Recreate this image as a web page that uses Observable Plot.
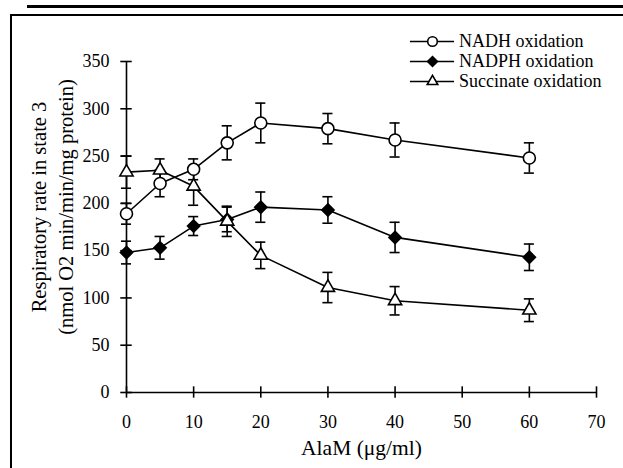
<!DOCTYPE html>
<html>
<head>
<meta charset="utf-8">
<script src="https://cdn.jsdelivr.net/npm/d3@7"></script>
<script src="https://cdn.jsdelivr.net/npm/@observablehq/plot@0.6"></script>
<style>
  html, body { margin: 0; padding: 0; background: #fff; }
  #wrap { position: relative; width: 623px; height: 468px; overflow: hidden; font-family: "Liberation Serif", "Times New Roman", Times, serif; }
  #topline { position: absolute; left: 27px; top: 5px; width: 596px; height: 3px; background: #000; }
  #box { position: absolute; left: 10px; top: 14px; width: 620px; height: 470px; border-left: 2px solid #000; border-top: 2px solid #000; }
  #chart { position: absolute; left: 0; top: 0; }
  #chart svg text { font-family: "Liberation Serif", "Times New Roman", Times, serif; }
  #legend { position: absolute; left: 408px; top: 31px; font-size: 18px; color: #000; font-family: "Liberation Serif", "Times New Roman", Times, serif; }
  #legend .row { display: flex; align-items: center; height: 20px; }
  #legend svg { margin-right: 3px; }
</style>
</head>
<body>
<div id="wrap">
  <div id="topline"></div>
  <div id="box"></div>
  <div id="chart"></div>
  <div id="legend"></div>
</div>
<script>
// ---- data ----
const doses = [0, 5, 10, 15, 20, 30, 40, 60];
const nadh = [189, 221, 236, 264, 285, 279, 267, 248];
const nadhErr = [11, 14, 11, 18, 21, 16, 18, 16];
const nadph = [148, 153, 176, 183, 196, 193, 164, 143];
const nadphErr = [12, 12, 10, 13, 16, 14, 16, 14];
const succ = [233, 235, 218, 181, 145, 111, 97, 87];
const succErr = [17, 12, 20, 16, 14, 16, 15, 12];
const seriesNames = ["NADH oxidation", "NADPH oxidation", "Succinate oxidation"];
const xTicks = [0, 10, 20, 30, 40, 50, 60, 70];
const yTicks = [0, 50, 100, 150, 200, 250, 300, 350];
const xTitle = "AlaM (\u03bcg/ml)";
const yTitle = "Respiratory rate in state 3\n(nmol O2 min/min/mg protein)";

// ---- build table ----
const rows = [];
[[nadh, nadhErr], [nadph, nadphErr], [succ, succErr]].forEach(([v, e], si) => {
  doses.forEach((d, i) => rows.push({series: seriesNames[si], x: d, y: v[i], e: e[i]}));
});
const bySeries = s => rows.filter(r => r.series === s);

const TICKX = 0.85;   // half-length of y-axis ticks, in x units
const TICKY = 6;      // half-length of x-axis ticks, in y units
const CAP = 0.75;     // half-width of error caps, in x units
const font = "Liberation Serif";
const sw = 1.6;

const markerStyle = {
  "NADH oxidation": {symbol: "circle", fill: "white", r: 6},
  "NADPH oxidation": {symbol: "diamond2", fill: "black", r: 5.5},
  "Succinate oxidation": {symbol: "triangle", fill: "white", r: 4.9}
};

const marks = [
  // axes lines
  Plot.ruleX([0], {y1: 0, y2: 350, stroke: "black", strokeWidth: sw}),
  Plot.ruleY([0], {x1: 0, x2: 70, stroke: "black", strokeWidth: sw}),
  // axis ticks (crossing)
  Plot.ruleY(yTicks, {y: d => d, x1: -TICKX, x2: TICKX, stroke: "black", strokeWidth: sw}),
  Plot.ruleX(xTicks, {x: d => d, y1: -TICKY, y2: TICKY, stroke: "black", strokeWidth: sw}),
  // tick labels
  Plot.text(yTicks, {x: 0, y: d => d, text: d => String(d), textAnchor: "end", dx: -17, fontSize: 18, fontFamily: font, fill: "black"}),
  Plot.text(xTicks, {x: d => d, y: 0, text: d => String(d), dy: 30, fontSize: 18, fontFamily: font, fill: "black"}),
  // axis titles
  Plot.text([xTitle], {frameAnchor: "bottom", dy: 62, fontSize: 21.5, fontFamily: font, fill: "black"}),
  Plot.text([yTitle], {frameAnchor: "left", textAnchor: "middle", rotate: -90, dx: -76, dy: -20, fontSize: 20.5, lineHeight: 1.32, fontFamily: font, fill: "black"})
];

seriesNames.forEach(s => {
  marks.push(Plot.line(bySeries(s), {x: "x", y: "y", stroke: "black", strokeWidth: sw}));
});
seriesNames.forEach(s => {
  const d = bySeries(s);
  marks.push(Plot.ruleX(d, {x: "x", y1: r => r.y - r.e, y2: r => r.y + r.e, stroke: "black", strokeWidth: sw}));
  marks.push(Plot.ruleY(d, {y: r => r.y + r.e, x1: r => r.x - CAP, x2: r => r.x + CAP, stroke: "black", strokeWidth: sw}));
  marks.push(Plot.ruleY(d, {y: r => r.y - r.e, x1: r => r.x - CAP, x2: r => r.x + CAP, stroke: "black", strokeWidth: sw}));
});
seriesNames.forEach(s => {
  const m = markerStyle[s];
  marks.push(Plot.dot(bySeries(s), {x: "x", y: "y", symbol: m.symbol, r: m.r, fill: m.fill, stroke: "black", strokeWidth: sw}));
});

const chart = Plot.plot({
  width: 623,
  height: 468,
  marginLeft: 126,
  marginRight: 27,
  marginTop: 61,
  marginBottom: 76,
  style: {background: "transparent", overflow: "visible", fontFamily: "Liberation Serif, serif"},
  x: {domain: [0, 70], axis: null},
  y: {domain: [0, 350], axis: null},
  marks
});
document.getElementById("chart").appendChild(chart);

// ---- legend ----
const legend = document.getElementById("legend");
seriesNames.forEach(s => {
  const m = markerStyle[s];
  const row = document.createElement("div");
  row.className = "row";
  const svg = Plot.plot({
    width: 48, height: 20, margin: 0,
    x: {domain: [0, 1], axis: null}, y: {domain: [0, 1], axis: null},
    style: {background: "transparent", overflow: "visible"},
    marks: [
      Plot.ruleY([0.5], {x1: 0.04, x2: 0.96, stroke: "black", strokeWidth: sw}),
      Plot.dot([{x: 0.5, y: 0.5}], {x: "x", y: "y", symbol: m.symbol, r: m.r * 0.8, fill: m.fill, stroke: "black", strokeWidth: sw})
    ]
  });
  row.appendChild(svg);
  const t = document.createElement("span");
  t.textContent = s;
  row.appendChild(t);
  legend.appendChild(row);
});
</script>
</body>
</html>
